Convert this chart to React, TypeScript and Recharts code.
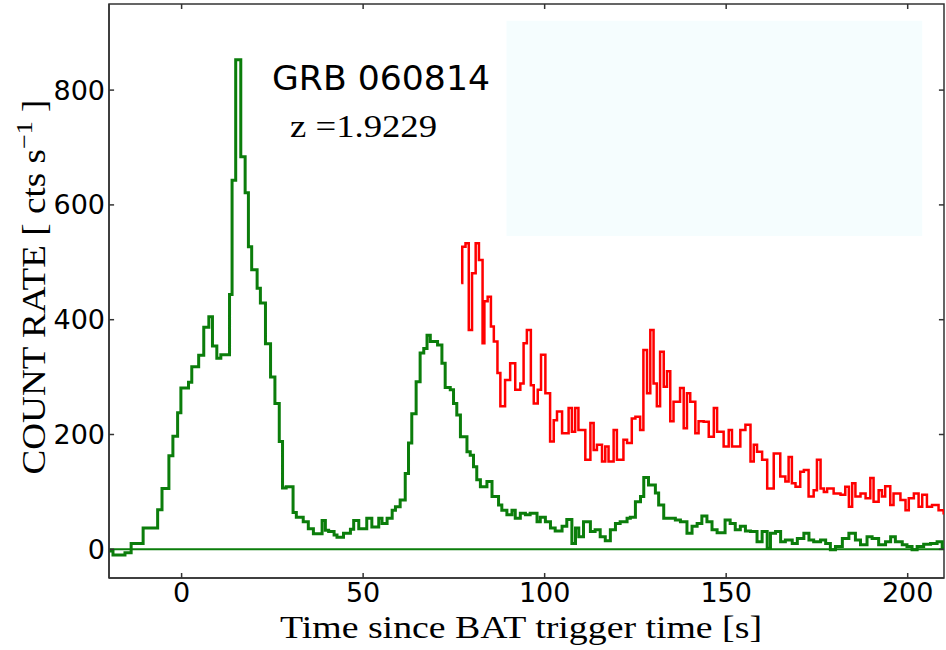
import React from "react";
import {
  LineChart,
  Line,
  XAxis,
  YAxis,
  ReferenceLine,
  ReferenceArea,
} from "recharts";

// ---- data ----
const xTicks = [0, 50, 100, 150, 200];
const yTicks = [0, 200, 400, 600, 800];

// BAT light curve (green), step starts [s] and count rate
const greenTime = [
  -20, -18.9, -15.6, -13.9, -10.6, -6.6, -5.4, -3.5, -2.4, -1.1, -0.2, 1.9, 2.8, 4.7, 6.1, 7.5, 8.5,
  9.7, 10.8, 13.2, 13.9, 14.9, 16.3, 17.5, 18.4, 19.3, 20.8, 21.7, 23.1, 24.5, 25.7, 26.9, 27.8, 28.8,
  30.7, 31.6, 33.5, 34.9, 36.3, 38.7, 39.6, 40.5, 42.0, 42.8, 44.6, 46.5, 47.4, 48.8, 51.0, 52.4, 54.3,
  55.2, 56.6, 58.0, 58.9, 60.2, 61.6, 62.5, 63.4, 64.6, 65.7, 66.7, 67.6, 68.5, 70.5, 71.7, 72.6, 74.0,
  74.9, 75.8, 76.8, 78.6, 79.5, 80.4, 81.3, 82.3, 84.1, 85.5, 87.3, 88.2, 89.6, 91.0, 91.9, 93.3, 94.7,
  96.0, 97.9, 98.8, 100.2, 101.6, 102.9, 104.8, 106.1, 107.5, 108.5, 109.4, 110.7, 112.6, 113.9, 115.3,
  116.7, 118.1, 119.5, 120.8, 122.7, 123.6, 125.0, 126.4, 127.3, 128.6, 130.5, 131.4, 132.8, 136.0,
  137.4, 139.2, 140.6, 142.0, 143.3, 144.7, 146.1, 147.5, 149.7, 151.1, 152.5, 153.9, 155.3, 156.7,
  158.5, 159.9, 161.3, 162.2, 163.6, 165.0, 166.3, 168.2, 169.6, 171.4, 172.8, 174.1, 176.0, 177.4,
  178.7, 180.1, 182.0, 183.8, 185.6, 187.0, 188.8, 190.2, 192.0, 193.9, 195.3, 196.6, 198.5, 199.8,
  201.2, 202.6, 204.4, 206.3, 208.1, 209.5, 210,
];
const greenRate = [
  -3, -10, -6, 10, 37, 69, 106, 163, 197, 238, 281, 291, 318, 338, 387, 405, 354,
  333, 339, 444, 643, 853, 684, 621, 527, 487, 455, 429, 358, 300, 254, 188, 107, 109,
  64, 56, 48, 36, 27, 50, 33, 31, 25, 21, 28, 35, 50, 36, 54, 39, 54,
  45, 54, 68, 74, 86, 132, 185, 236, 292, 342, 350, 373, 362, 356, 324, 282, 278,
  254, 234, 196, 170, 164, 144, 121, 109, 118, 92, 77, 68, 60, 68, 54, 63, 60,
  63, 48, 56, 48, 37, 32, 40, 52, 10, 37, 22, 48, 31, 34, 22,
  15, 34, 45, 48, 54, 56, 83, 92, 125, 112, 98, 77, 54, 51,
  48, 28, 40, 45, 58, 48, 34, 29, 51, 45, 34, 40, 32, 31,
  13, 31, 2, 28, 31, 13, 16, 10, 19, 28, 16, 13, 16, 10,
  -1, 5, 19, 28, 16, 8, 22, 19, 8, 13, 22, 13, 8, 5,
  -1, 5, 9, 10, 13, 2, 2,
];

// XRT light curve (red)
const redTime = [
  77.0, 77.3, 78.2, 79.1, 80.0, 81.0, 81.9, 82.9, 83.4, 84.3, 85.2, 86.0, 87.0, 87.8, 89.1, 90.5, 91.9,
  93.3, 94.2, 95.1, 96.2, 97.0, 98.1, 99.0, 100.2, 101.5, 102.5, 103.4, 104.8, 106.6, 107.5, 108.4,
  109.3, 111.2, 112.6, 113.5, 114.4, 115.8, 116.7, 117.6, 119.0, 119.9, 121.7, 122.7, 124.0, 125.0,
  126.3, 127.2, 128.2, 129.1, 130.0, 130.9, 131.8, 132.8, 133.7, 134.6, 135.5, 137.3, 138.3, 139.2,
  140.1, 141.5, 142.4, 143.8, 145.2, 146.6, 147.5, 149.3, 150.7, 151.6, 153.9, 155.3, 156.7, 157.6,
  158.5, 159.9, 161.3, 163.1, 164.9, 166.3, 167.2, 168.1, 169.1, 170.4, 171.4, 172.7, 174.1, 175.0,
  176.0, 176.9, 177.8, 179.6, 181.5, 182.8, 183.8, 184.7, 185.6, 187.0, 188.4, 189.7, 190.6, 192.0,
  192.9, 193.8, 195.2, 196.1, 198.0, 199.4, 200.3, 201.7, 203.0, 204.0, 205.3, 206.7, 208.5, 209.9, 210,
];
const redRate = [
  464, 527, 533, 382, 481, 533, 504, 359, 432, 440, 388, 362, 307, 249, 295, 324, 278,
  289, 359, 382, 286, 254, 278, 339, 272, 188, 225, 240, 202, 246, 205, 246,
  208, 156, 220, 173, 182, 153, 179, 153, 208, 156, 191, 185, 228, 231,
  208, 347, 272, 382, 289, 249, 344, 283, 310, 223, 257, 281, 211, 272,
  257, 202, 223, 222, 196, 246, 205, 179, 208, 179, 208, 217, 153, 182,
  170, 156, 106, 167, 127, 118, 161, 115, 109, 135, 138, 92, 103, 156,
  106, 100, 106, 97, 95, 109, 74, 115, 92, 97, 89, 124, 83, 103,
  92, 110, 77, 97, 86, 68, 89, 97, 74, 95, 74, 77, 68, 63, 63,
];

const greenData = greenTime.map((t, i) => ({ t, v: greenRate[i] }));
const redData = redTime.map((t, i) => ({ t, v: redRate[i] }));

const FRAME = "#333333";
const GREEN = "#0b7d0b";
const RED = "#ff0000";
const tickFont = { fill: "#000", fontSize: 27, fontFamily: "DejaVu Sans" };
const X_DOMAIN: [number, number] = [-20, 210];
const Y_DOMAIN: [number, number] = [-50, 950];
// inward tick length expressed in data units (≈5 px)
const X_TICK_LEN = 1.4;
const Y_TICK_LEN = 8.7;

export default function App() {
  return (
    <div style={{ position: "absolute", left: 0, top: 0, width: 946, height: 650, background: "#fff" }}>
      <LineChart width={946} height={650} margin={{ top: 4, right: 2, bottom: 0, left: 0 }}>
        <XAxis
          xAxisId="x"
          type="number"
          dataKey="t"
          domain={X_DOMAIN}
          ticks={xTicks}
          interval={0}
          allowDataOverflow
          height={72}
          tickLine={false}
          tickSize={0}
          tickMargin={5}
          axisLine={{ stroke: FRAME, strokeWidth: 1.5 }}
          tick={tickFont}
        />
        <YAxis
          yAxisId="y"
          type="number"
          domain={Y_DOMAIN}
          ticks={yTicks}
          interval={0}
          allowDataOverflow
          width={109}
          tickLine={false}
          tickSize={0}
          tickMargin={4}
          axisLine={{ stroke: FRAME, strokeWidth: 1.5 }}
          tick={tickFont}
        />
        <ReferenceArea
          xAxisId="x"
          yAxisId="y"
          x1={89.5}
          x2={204}
          y1={546}
          y2={921}
          fill="#f5fdfe"
          fillOpacity={1}
          stroke="none"
        />
        <ReferenceLine xAxisId="x" yAxisId="y" y={0} stroke={GREEN} strokeWidth={2} />
        <Line
          xAxisId="x"
          yAxisId="y"
          data={greenData}
          dataKey="v"
          type="stepAfter"
          stroke={GREEN}
          strokeWidth={3}
          dot={false}
          isAnimationActive={false}
        />
        <Line
          xAxisId="x"
          yAxisId="y"
          data={redData}
          dataKey="v"
          type="stepAfter"
          stroke={RED}
          strokeWidth={2.5}
          dot={false}
          isAnimationActive={false}
        />
        {/* frame */}
        <ReferenceArea
          xAxisId="x"
          yAxisId="y"
          x1={X_DOMAIN[0]}
          x2={X_DOMAIN[1]}
          y1={Y_DOMAIN[0]}
          y2={Y_DOMAIN[1]}
          fill="none"
          fillOpacity={0}
          stroke={FRAME}
          strokeWidth={1.5}
        />
        {/* inward ticks on all four sides */}
        {xTicks.map((t) => (
          <ReferenceLine
            key={`xb${t}`}
            xAxisId="x"
            yAxisId="y"
            segment={[{ x: t, y: Y_DOMAIN[0] }, { x: t, y: Y_DOMAIN[0] + Y_TICK_LEN }]}
            stroke={FRAME}
            strokeWidth={1.5}
          />
        ))}
        {xTicks.map((t) => (
          <ReferenceLine
            key={`xt${t}`}
            xAxisId="x"
            yAxisId="y"
            segment={[{ x: t, y: Y_DOMAIN[1] }, { x: t, y: Y_DOMAIN[1] - Y_TICK_LEN }]}
            stroke={FRAME}
            strokeWidth={1.5}
          />
        ))}
        {yTicks.map((v) => (
          <ReferenceLine
            key={`yl${v}`}
            xAxisId="x"
            yAxisId="y"
            segment={[{ x: X_DOMAIN[0], y: v }, { x: X_DOMAIN[0] + X_TICK_LEN, y: v }]}
            stroke={FRAME}
            strokeWidth={1.5}
          />
        ))}
        {yTicks.map((v) => (
          <ReferenceLine
            key={`yr${v}`}
            xAxisId="x"
            yAxisId="y"
            segment={[{ x: X_DOMAIN[1], y: v }, { x: X_DOMAIN[1] - X_TICK_LEN, y: v }]}
            stroke={FRAME}
            strokeWidth={1.5}
          />
        ))}
      </LineChart>
      <svg
        width={946}
        height={650}
        style={{ position: "absolute", left: 0, top: 0, pointerEvents: "none" }}
      >
        <text x={272} y={90} fontFamily="DejaVu Sans" fontSize={33} fill="#000" textLength={218} lengthAdjust="spacingAndGlyphs">
          GRB 060814
        </text>
        <text x={290} y={137} fontFamily="Liberation Serif" fontSize={32} fill="#000" textLength={147} lengthAdjust="spacingAndGlyphs">
          z =1.9229
        </text>
        <text x={280} y={638} fontFamily="Liberation Serif" fontSize={32} fill="#000" textLength={482} lengthAdjust="spacingAndGlyphs">
          Time since BAT trigger time [s]
        </text>
        <text
          transform="translate(45,287) rotate(-90)"
          textAnchor="middle"
          fontFamily="Liberation Serif"
          fontSize={34}
          fill="#000"
          textLength={375}
          lengthAdjust="spacingAndGlyphs"
        >
          COUNT RATE [ cts s<tspan dy={-13} fontSize={24}>−1</tspan><tspan dy={13}> ]</tspan>
        </text>
      </svg>
    </div>
  );
}
